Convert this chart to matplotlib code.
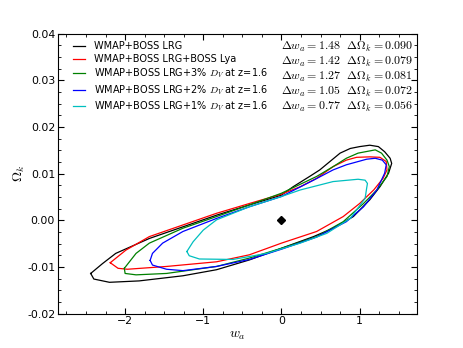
import matplotlib
matplotlib.use('Agg')
import matplotlib.pyplot as plt
from matplotlib.ticker import MultipleLocator

plt.rcParams['mathtext.fontset'] = 'cm'
plt.rcParams['font.size'] = 8

# contour outlines: (w_a, Omega_k)
black_wa = [-2.44, -2.40, -2.20, -1.82, -1.26, -0.83, -0.41, 0.00, 0.41, 0.66, 0.92, 1.13,
            1.26, 1.37, 1.41, 1.39, 1.32, 1.24, 1.13, 1.00, 0.88, 0.75, 0.62, 0.49, 0.36,
            0.15, 0.00, -0.41, -0.83, -1.26, -1.69, -2.12, -2.29, -2.44]
black_ok = [-0.0114, -0.0126, -0.0133, -0.0130, -0.0119, -0.0106, -0.0085, -0.0060, -0.0035,
            -0.0017, 0.0008, 0.0044, 0.0072, 0.0101, 0.0122, 0.0133, 0.0147, 0.0158, 0.0161,
            0.0158, 0.0154, 0.0144, 0.0126, 0.0108, 0.0094, 0.0072, 0.0054, 0.0033, 0.0011,
            -0.0014, -0.0039, -0.0071, -0.0093, -0.0114]

red_wa = [-2.19, -2.09, -1.97, -1.47, -0.83, -0.41, 0.00, 0.45, 0.79, 1.00, 1.18, 1.30, 1.35,
          1.34, 1.26, 1.13, 0.96, 0.83, 0.66, 0.45, 0.24, 0.00, -0.41, -0.83, -1.26, -1.69,
          -1.99, -2.19]
red_ok = [-0.0091, -0.0103, -0.0105, -0.0099, -0.0089, -0.0074, -0.0049, -0.0024, 0.0008,
          0.0036, 0.0065, 0.0090, 0.0108, 0.0126, 0.0135, 0.0136, 0.0135, 0.0129, 0.0115,
          0.0090, 0.0072, 0.0056, 0.0036, 0.0015, -0.0010, -0.0035, -0.0064, -0.0091]

green_wa = [-2.01, -2.00, -1.86, -1.47, -0.83, -0.41, 0.00, 0.45, 0.79, 1.05, 1.22, 1.35, 1.38,
            1.35, 1.28, 1.20, 0.98, 0.83, 0.66, 0.45, 0.00, -0.41, -0.83, -1.26, -1.69, -1.86,
            -2.01]
green_ok = [-0.0103, -0.0114, -0.0117, -0.0114, -0.0099, -0.0081, -0.0060, -0.0035, -0.0003,
            0.0036, 0.0065, 0.0094, 0.0115, 0.0129, 0.0144, 0.0151, 0.0144, 0.0133, 0.0115,
            0.0094, 0.0058, 0.0033, 0.0008, -0.0017, -0.0049, -0.0071, -0.0103]

blue_wa = [-1.68, -1.65, -1.47, -1.26, -0.83, -0.41, 0.00, 0.45, 0.83, 1.05, 1.22, 1.32, 1.34,
           1.29, 1.20, 1.09, 0.83, 0.66, 0.41, 0.00, -0.41, -0.83, -1.26, -1.52, -1.65, -1.68]
blue_ok = [-0.0086, -0.0096, -0.0105, -0.0108, -0.0099, -0.0084, -0.0062, -0.0036, -0.0003,
           0.0029, 0.0065, 0.0101, 0.0119, 0.0129, 0.0133, 0.0131, 0.0119, 0.0108, 0.0086,
           0.0051, 0.0029, 0.0004, -0.0024, -0.0049, -0.0071, -0.0086]

cyan_wa = [-1.21, -1.18, -1.05, -0.62, -0.19, 0.24, 0.58, 0.88, 1.07, 1.09, 1.10, 1.07, 0.98,
           0.66, 0.24, 0.00, -0.41, -0.83, -1.00, -1.13, -1.21]
cyan_ok = [-0.0067, -0.0076, -0.0083, -0.0084, -0.0071, -0.0049, -0.0028, 0.0004, 0.0047,
           0.0069, 0.0079, 0.0086, 0.0088, 0.0083, 0.0065, 0.0051, 0.0029, 0.0001, -0.0021,
           -0.0046, -0.0067]

labels = ['WMAP+BOSS LRG',
          'WMAP+BOSS LRG+BOSS Lya',
          'WMAP+BOSS LRG+3% $D_V$ at z=1.6',
          'WMAP+BOSS LRG+2% $D_V$ at z=1.6',
          'WMAP+BOSS LRG+1% $D_V$ at z=1.6']
delta_wa = ['1.48', '1.42', '1.27', '1.05', '0.77']
delta_ok = ['0.090', '0.079', '0.081', '0.072', '0.056']
colors = ['k', 'r', 'g', 'b', 'c']

fiducial = (0.0, 0.0)


def main() -> None:
    fig = plt.figure(figsize=(4.63, 3.48), dpi=100)
    ax = fig.add_axes([0.125, 0.099, 0.775, 0.804])

    curves = [(black_wa, black_ok), (red_wa, red_ok), (green_wa, green_ok),
              (blue_wa, blue_ok), (cyan_wa, cyan_ok)]
    for (xs, ys), c, lab in zip(curves, colors, labels):
        ax.plot(xs, ys, color=c, lw=0.9, label=lab)
    ax.plot([fiducial[0]], [fiducial[1]], marker='D', color='k', ms=4.5, ls='none')

    ax.set_xlim(-2.86, 1.73)
    ax.set_ylim(-0.02, 0.04)
    ax.xaxis.set_major_locator(MultipleLocator(1))
    ax.xaxis.set_minor_locator(MultipleLocator(0.25))
    ax.yaxis.set_major_locator(MultipleLocator(0.01))
    ax.yaxis.set_minor_locator(MultipleLocator(0.0025))
    ax.yaxis.set_major_formatter(matplotlib.ticker.FormatStrFormatter('%.2f'))
    ax.tick_params(which='both', direction='in', top=True, right=True, pad=2,
                   labelsize=7.8)
    ax.tick_params(which='major', length=4)
    ax.tick_params(which='minor', length=2)

    ax.set_xlabel('$w_a$', fontsize=10, labelpad=1)
    ax.set_ylabel(r'$\Omega_k$', fontsize=10, labelpad=0)

    ax.legend(loc='upper left', frameon=False, fontsize=7, handlelength=1.25,
              handletextpad=1.0, labelspacing=0.27, borderaxespad=0.3,
              bbox_to_anchor=(0.022, 0.997))

    for i, (dw, dk) in enumerate(zip(delta_wa, delta_ok)):
        ax.text(0.99, 0.953 - i * 0.0536,
                r'$\Delta w_a={}$  $\Delta\Omega_k={}$'.format(dw, dk),
                transform=ax.transAxes, ha='right', va='center', fontsize=8.6)

    plt.savefig('out.png', dpi=100)


if __name__ == '__main__':
    main()
